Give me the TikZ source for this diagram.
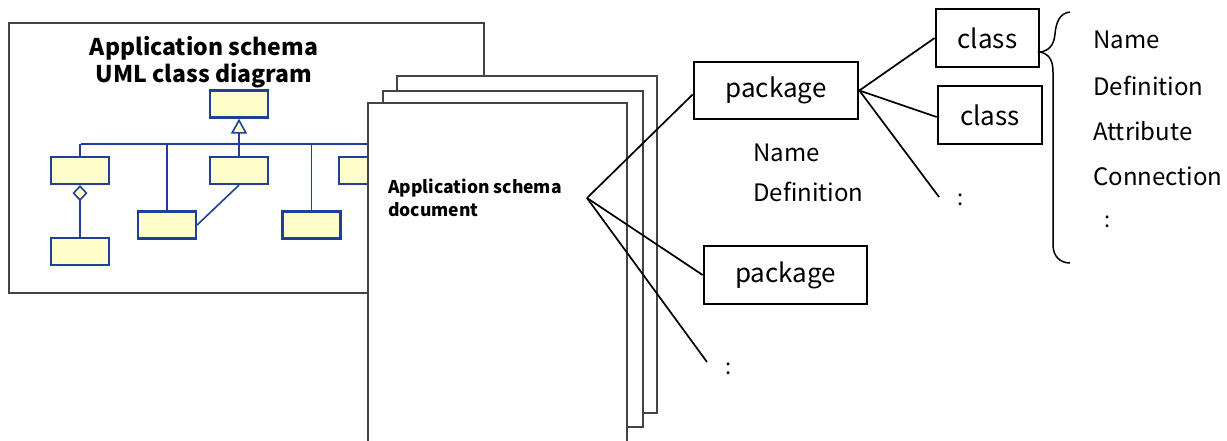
\documentclass[tikz,border=0pt]{standalone}
\usepackage{fontspec}
\setmainfont{Noto Sans CJK JP}
\usetikzlibrary{arrows.meta,positioning}
\definecolor{umlblue}{HTML}{1F3F99}
\definecolor{umlfill}{HTML}{FFFFCC}
\definecolor{sheetln}{HTML}{444444}
\tikzset{
  umlbox/.style={draw=umlblue,fill=umlfill,line width=2.2pt,minimum width=58pt,
                 minimum height=27pt,inner sep=0pt},
  umlline/.style={draw=umlblue,line width=1.6pt},
  sheet/.style={draw=sheetln,fill=white,line width=2pt},
  itembox/.style={draw=black,line width=2.7pt,inner sep=0pt,fill=white,
                  font=\fontsize{26}{30}\selectfont},
  link/.style={draw=black,line width=1.7pt},
  lab/.style={font=\fontsize{24}{28}\selectfont,inner sep=0pt,anchor=west},
  dots/.style={font=\fontsize{22}{26}\selectfont,inner sep=0pt},
  ttl/.style={font=\bfseries\fontsize{23}{27}\selectfont,align=center,inner sep=0pt},
}

\begin{document}
\begin{tikzpicture}[x=1pt,y=-1pt]
\clip (0,0) rectangle (1227,440);
\fill[white] (0,0) rectangle (1227,440);

% class diagram frame
\draw[sheet] (9,23) rectangle (484,293);
\node[ttl] (umltitle) at (204,62) {Application schema\\UML class diagram};

% small classes
\node[umlbox] (sup) at (239,104) {};
\node[umlbox] (ca) at (80,170.5) {};
\node[umlbox] (cc) at (239,170.5) {};
\node[umlbox] (ce) at (368,170.5) {};
\node[umlbox] (cb) at (167,225) {};
\node[umlbox] (cd) at (311.5,225) {};
\node[umlbox] (cf) at (80,251.5) {};
\coordinate (busl) at (81,144);
\coordinate (busr) at (400,144);
\draw[umlline] (busl) -- (busr);
\draw[umlline] (ca.north) -- (ca.north |- busl);
\draw[umlline] (cb.north) -- (cb.north |- busl);
\draw[umlline] (cd.north) -- (cd.north |- busl);
\draw[umlline,-{Triangle[length=15pt,width=16pt,fill=umlfill]}] (cc.north) -- (sup.south);
\draw[umlline] (cc.south) -- (cb.east);
\draw[umlline,{Diamond[length=16pt,width=15pt,fill=umlfill]}-] (ca.south) -- (cf.north);

% stacked document sheets
\draw[sheet] (397,76) rectangle (657,413);
\draw[sheet] (383,91) rectangle (643,427);
\draw[sheet] (368,103) rectangle (627,460);
\node[font=\bfseries\fontsize{17.5}{23}\selectfont,align=left,anchor=west,inner sep=0pt]
  (doctxt) at (388,198) {Application schema\\document};
\coordinate (fan) at (587,198);

% packages and classes
\node[itembox,minimum width=164pt,minimum height=57pt] (pk1) at (776,90.5) {package};
\node[itembox,minimum width=163pt,minimum height=58pt] (pk2) at (785.5,275) {package};
\node[itembox,minimum width=103pt,minimum height=58pt] (cl1) at (987.5,38) {class};
\node[itembox,minimum width=104pt,minimum height=58pt] (cl2) at (990,115) {class};

\node[lab] (pkname) at (753,153) {Name};
\node[lab] (pkdef) at (753,192) {Definition};

\coordinate (end1) at (707,362);
\coordinate (end2) at (939,197);
\draw[link] (fan) -- ([yshift=-4pt]pk1.west);
\draw[link] (fan) -- (pk2.west);
\draw[link] (fan) -- (end1);
\node[dots] (more1) at (729,369) {:};
\draw[link] (pk1.east) -- (cl1.west);
\draw[link] (pk1.east) -- ([yshift=-2pt]cl2.west);
\draw[link] (pk1.east) -- (end2);
\node[dots] (more2) at (961,200) {:};

% brace with the class contents
\coordinate (bracetip) at (1040,52);
\draw[link,line width=1.5pt] (1070,12) .. controls (1060,13) and (1056,22) .. (1055,34)
  .. controls (1054,46) and (1048,51) .. (bracetip)
  .. controls (1049,54) and (1053,60) .. (1053,72) -- (1053,245)
  .. controls (1053,256) and (1060,263) .. (1070,263);
\foreach \txt [count=\i from 0] in {Name,Definition,Attribute,Connection}
  \node[lab] (attr\i) at (1093,40+45.5*\i) {\txt};
\node[dots] (more3) at (1108,222) {:};
\end{tikzpicture}
\end{document}
